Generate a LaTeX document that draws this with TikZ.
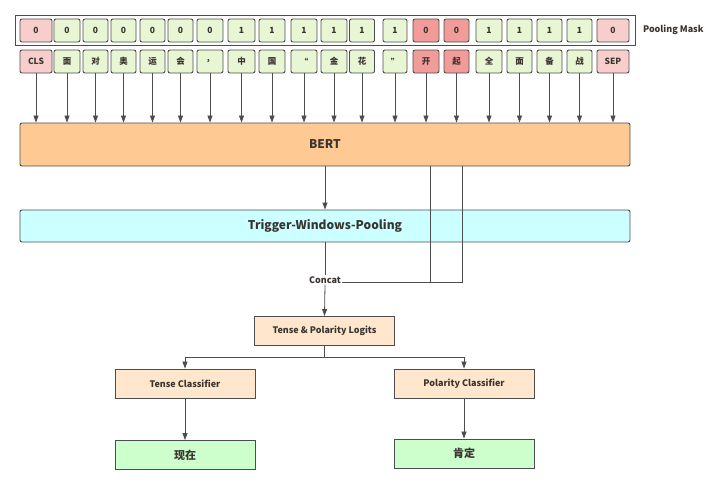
\documentclass[tikz,border=0pt]{standalone}
\usepackage{fontspec}
\setmainfont{Noto Sans CJK SC}
\usepackage{tikz}
\usetikzlibrary{arrows.meta,positioning,calc}
\usepackage{xcolor}
\definecolor{cgreen}{HTML}{E8F6D4}
\definecolor{cpink}{HTML}{F8CECC}
\definecolor{cred}{HTML}{F19C99}
\definecolor{corange}{HTML}{FFC994}
\definecolor{ccyan}{HTML}{CCFFFF}
\definecolor{cpeach}{HTML}{FFE6CC}
\definecolor{cmint}{HTML}{CCFFCC}
\definecolor{cline}{HTML}{4D4D4D}
\definecolor{ctext}{HTML}{3A3430}

\begin{document}
\begin{tikzpicture}[
  x=1pt, y=-1pt,
  cell/.style={draw=cline, fill=#1, rounded corners=2pt, line width=0.9pt,
               minimum width=26pt, minimum height=23pt, inner sep=0pt,
               font=\bfseries\fontsize{8.5}{8.5}\selectfont, text=ctext},
  band/.style={draw=cline, fill=#1, rounded corners=2pt, line width=0.9pt,
               minimum width=610pt, font=\bfseries\fontsize{12}{12}\selectfont, text=ctext},
  blk/.style={draw=cline, fill=#1, line width=0.9pt, minimum width=140pt,
              minimum height=29pt, font=\bfseries\fontsize{9}{9}\selectfont, text=ctext},
  arrow/.style={-{Triangle[length=7pt,width=5pt]}, draw=cline, line width=0.8pt},
  link/.style={draw=cline, line width=0.8pt},
  every node/.style={align=center}
]
\useasboundingbox (0,0) rectangle (720,485);

%% Pooling mask frame
\node[draw=cline, line width=1pt, minimum width=620pt, minimum height=30pt,
      inner sep=0pt] (maskrow) at (325,30) {};
\node[right=4pt of maskrow, font=\bfseries\fontsize{9}{9}\selectfont,
      text=ctext] (masklbl) {Pooling Mask};

%% Tokens, mask values and input arrows
\foreach \i/\px/\w/\tok/\m/\col in {
  1/36/32/CLS/0/cpink, 2/67/26/面/0/cgreen, 3/95.5/25/对/0/cgreen,
  4/123.5/25/奥/0/cgreen, 5/152.5/25/运/0/cgreen, 6/180.5/25/会/0/cgreen,
  7/210/26/，/0/cgreen, 8/241.5/27/中/1/cgreen, 9/272/26/国/1/cgreen,
  10/304/26/“/1/cgreen, 11/334/26/金/1/cgreen, 12/362/25/花/1/cgreen,
  13/395/24/”/1/cgreen, 14/426/26/开/0/cred, 15/456.5/25/起/0/cred,
  16/489/26/全/1/cgreen, 17/519.5/25/面/1/cgreen, 18/549.5/25/备/1/cgreen,
  19/579.5/25/战/1/cgreen, 20/613/32/SEP/0/cpink}
{
  \node[cell=\col, minimum width=\w pt] (m\i) at (\px,30.5) {\m};
  \node[cell=\col, minimum width=\w pt] (t\i) at (\px,61.5) {\tok};
}

%% BERT and pooling
\node[band=corange, minimum height=43pt] (bert) at (325,144.5) {BERT};
\node[band=ccyan, minimum height=32pt] (twp) at (325,226) {Trigger-Windows-Pooling};

\foreach \i in {1,...,20}
  \draw[arrow] (t\i.south) -- (t\i.south |- bert.north);

%% Concat
\node[font=\bfseries\fontsize{9}{9}\selectfont, text=ctext, inner sep=1pt]
  (concat) at (325,280) {Concat};
\draw[arrow] (bert.south) -- (twp.north);
\draw[link] (twp.south) -- (concat.north);
\draw[link] ([xshift=105pt]bert.south) |- ([yshift=-2pt]concat.east);
\draw[link] ([xshift=137pt]bert.south) |- ([yshift=-2pt]concat.east);

%% Logits and classifiers
\node[blk=cpeach] (logits) at (324.5,331) {Tense \& Polarity Logits};
\draw[arrow] (concat.south) -- (logits.north);

\node[blk=cpeach] (tense) at (185,383.5) {Tense Classifier};
\node[blk=cpeach] (polar) at (464,383.5) {Polarity Classifier};
\draw[link] (logits.south) -- ++(0,11.5) coordinate (split);
\draw[arrow] (split) -| (tense.north);
\draw[arrow] (split) -| (polar.north);

%% Outputs
\node[blk=cmint, font=\bfseries\fontsize{11}{11}\selectfont] (now) at (185,455) {现在};
\node[blk=cmint, font=\bfseries\fontsize{11}{11}\selectfont] (pos) at (464,453.5) {肯定};
\draw[arrow] (tense.south) -- (now.north);
\draw[arrow] (polar.south) -- (pos.north);

\end{tikzpicture}
\end{document}
